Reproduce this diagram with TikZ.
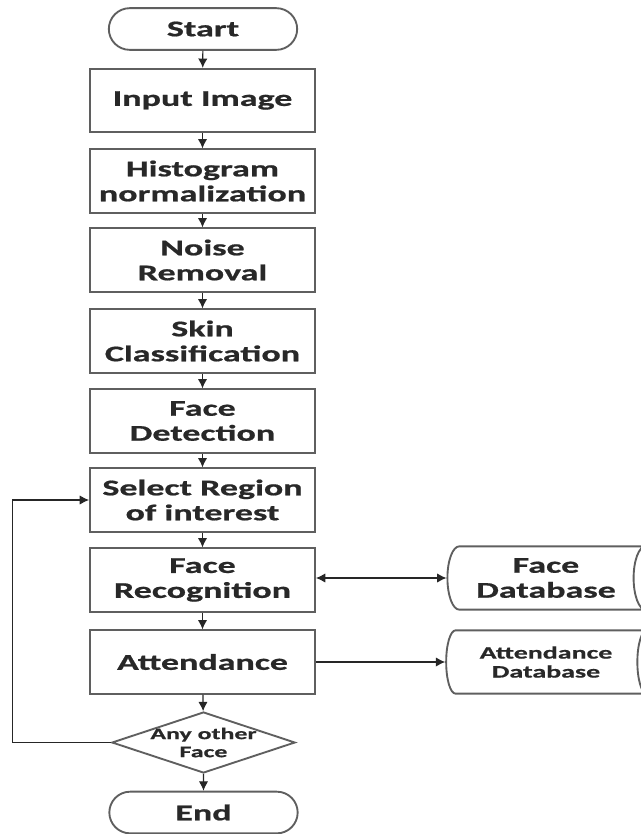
\documentclass[tikz,border=0pt]{standalone}
\usepackage{fontspec}
\newfontfamily\flowfont{Carlito}[FakeStretch=1.6,FakeBold=0.8]
\usetikzlibrary{arrows.meta,shapes.geometric,shapes.misc,calc}
\definecolor{boxline}{RGB}{95,95,95}
\definecolor{boxtext}{RGB}{40,40,40}
\tikzset{>={Latex[length=8pt,width=8pt]}}
\tikzset{
	base/.style={draw=boxline, line width=1.6pt, text=boxtext, align=center, inner sep=0pt, font=\flowfont\bfseries\fontsize{19.2}{21.3}\selectfont},
	process/.style={base, rectangle, minimum width=6.75cm, minimum height=1.9cm},
	terminal/.style={base, rounded rectangle, minimum width=5.65cm, minimum height=1.25cm},
	decision/.style={base, diamond, minimum width=5.5cm, minimum height=1.83cm},
	database/.style={base, cylinder, shape aspect=0.6, minimum height=6.3cm, minimum width=1.9cm},
	flow/.style={->, line width=1pt, draw=black!85},
}

\begin{document}
\begin{tikzpicture}[x=0.03cm, y=-0.03cm]
	\useasboundingbox (0,0) rectangle (641,834);
	% main column, one box every 81px
	\node[terminal] (start) at (203,29) {Start};
	\node[process] (input) at (202.5,100.5) {Input Image};
	\node[process] (hist) at (202.5,181) {Histogram\\normalization};
	\node[process] (noise) at (202.5,260) {Noise\\Removal};
	\node[process] (skin) at (202.5,341) {Skin\\Classification};
	\node[process] (detect) at (202.5,421) {Face\\Detection};
	\node[process] (roi) at (202.5,500) {Select Region\\of interest};
	\node[process] (recog) at (202.5,580) {Face\\Recognition};
	\node[process] (attend) at (202.5,662) {Attendance};
	\node[decision, label={[font=\flowfont\bfseries\fontsize{13.8}{15.4}\selectfont, text=boxtext, align=center]center:Any other\\Face}] (any) at (203.5,742.5) {};
	\node[terminal] (end) at (203.5,812.5) {End};

	% stores on the right
	\node[database] (fdb) at (546,578) {Face\\Database};
	\node[database, font=\flowfont\bfseries\fontsize{14.9}{16.2}\selectfont] (adb) at (546,662) {Attendance\\Database};

	% Drawing the flow
	\draw[flow] (start) -- (input);
	\draw[flow] (input) -- (hist);
	\draw[flow] (hist) -- (noise);
	\draw[flow] (noise) -- (skin);
	\draw[flow] (skin) -- (detect);
	\draw[flow] (detect) -- (roi);
	\draw[flow] (roi) -- (recog);
	\draw[flow] (recog) -- (attend);
	\draw[flow] (attend) -- (any);
	\draw[flow] (any) -- (end);
	\draw[flow] (any.west) -- ++(-98,0) |- (roi.west); %loop back for next face
	\draw[flow, <->] (recog.east |- fdb.west) -- (fdb.west);
	\draw[flow] (attend.east) -- (adb.west);
\end{tikzpicture}
\end{document}
